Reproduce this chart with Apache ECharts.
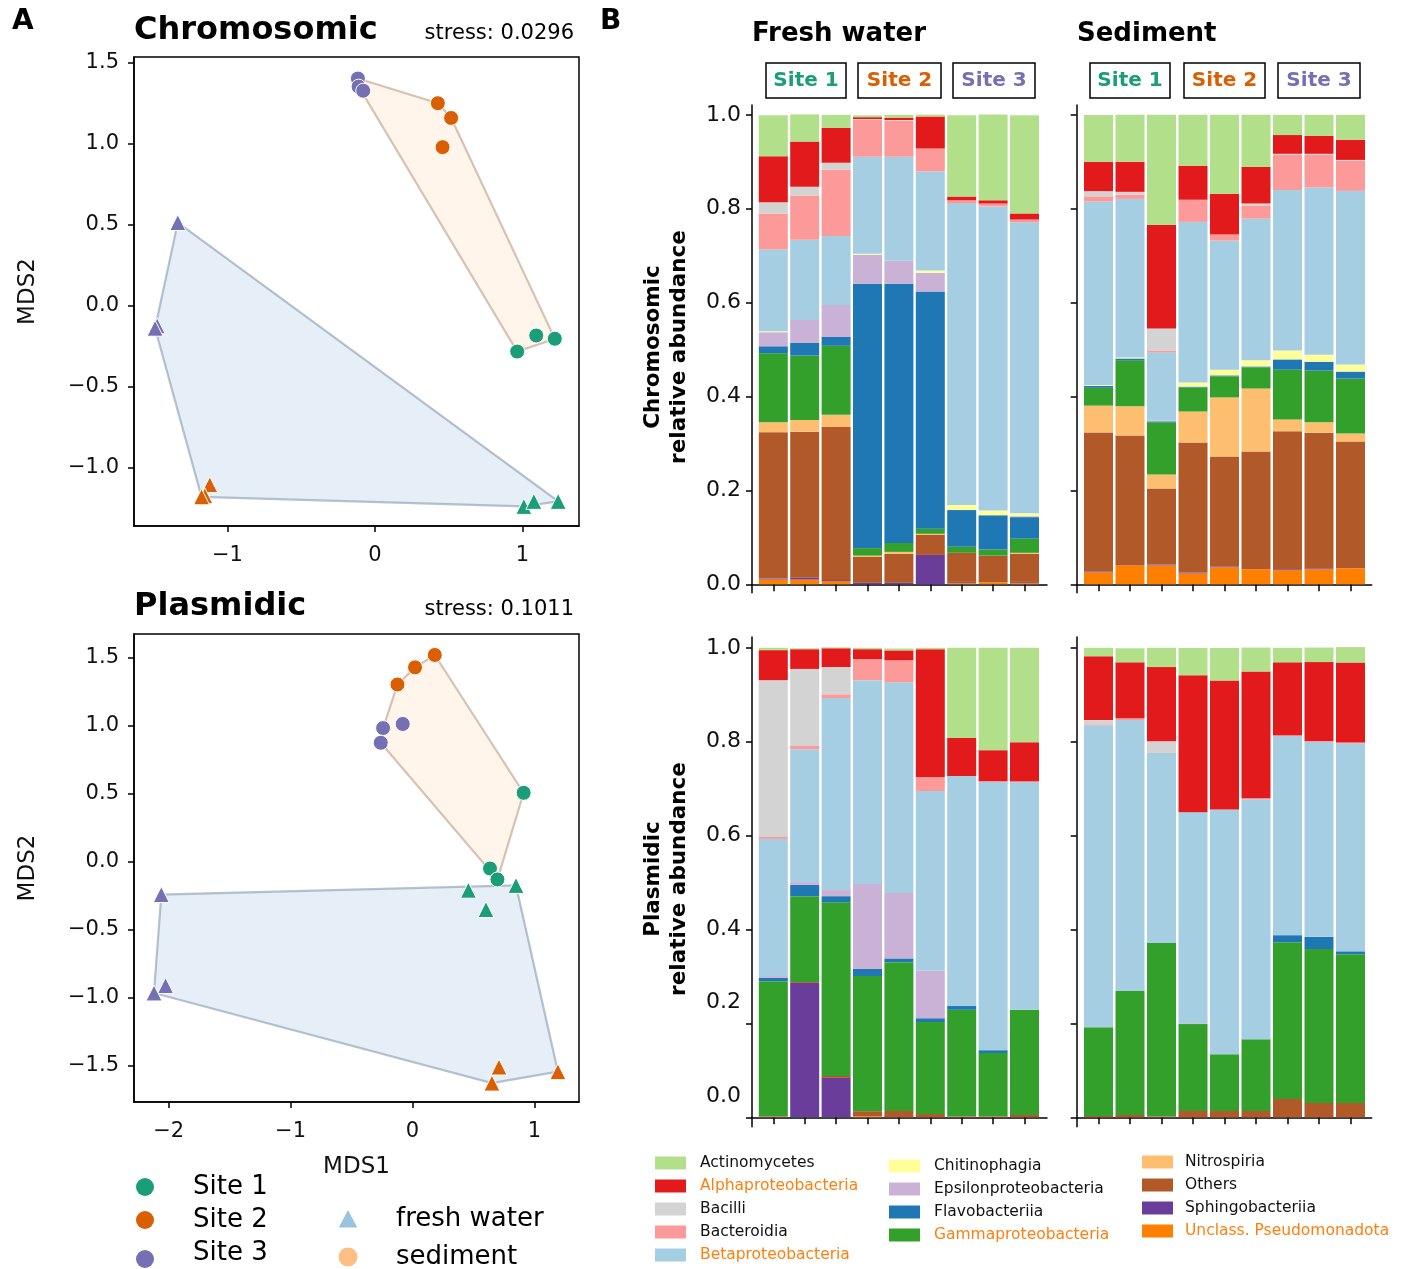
<!DOCTYPE html>
<html><head><meta charset="utf-8">
<script src="https://cdn.jsdelivr.net/npm/echarts@6/dist/echarts.min.js"></script>
<style>html,body{margin:0;padding:0;background:#fff}#c{width:1404px;height:1269px}</style>
</head><body><div id="c"></div>
<script>
// ---------------- DATA ----------------
// stacking order, bottom -> top
const taxa = ['Unclass. Pseudomonadota','Sphingobacteriia','Others','Nitrospiria','Gammaproteobacteria','Flavobacteriia','Epsilonproteobacteria','Chitinophagia','Betaproteobacteria','Bacteroidia','Bacilli','Alphaproteobacteria','Actinomycetes'];
const samples = ['1a','1b','1c','2a','2b','2c','3a','3b','3c'];
const yTicks = [0, 0.2, 0.4, 0.6, 0.8, 1.0];

// Chromosomic, fresh water (rows follow `taxa`)
const chromFresh = [
  [0.010,0.010,0.007,0,0,0,0.003,0.004,0.003],
  [0.002,0.004,0.002,0.003,0.003,0.0625,0.002,0,0.002],
  [0.312,0.311,0.326,0.055,0.062,0.043,0.062,0.057,0.060],
  [0.021,0.025,0.026,0.003,0.004,0.002,0,0,0.002],
  [0.147,0.137,0.147,0.016,0.019,0.011,0.013,0.013,0.030],
  [0.015,0.027,0.019,0.563,0.552,0.505,0.078,0.073,0.046],
  [0.030,0.049,0.068,0.062,0.049,0.040,0,0,0.002],
  [0.002,0,0,0.002,0,0.005,0.011,0.010,0.006],
  [0.174,0.171,0.147,0.207,0.222,0.211,0.643,0.648,0.620],
  [0.077,0.094,0.141,0.078,0.076,0.049,0.006,0.006,0.006],
  [0.024,0.019,0.015,0.002,0.002,0,0,0,0],
  [0.098,0.096,0.074,0.004,0.005,0.068,0.008,0.007,0.013],
  [0.087,0.058,0.028,0.004,0.006,0.004,0.173,0.183,0.209]
];
// Chromosomic, sediment
const chromSed = [
  [0.0255,0.040,0.040,0.023,0.036,0.032,0.030,0.032,0.034],
  [0.002,0,0.002,0.002,0.002,0,0.002,0.002,0],
  [0.296,0.277,0.162,0.277,0.234,0.251,0.294,0.289,0.270],
  [0.057,0.062,0.030,0.066,0.126,0.134,0.025,0.022,0.017],
  [0.038,0.098,0.111,0.051,0.045,0.045,0.106,0.110,0.117],
  [0.004,0.004,0.002,0.002,0.002,0.002,0.022,0.019,0.015],
  [0,0,0.002,0,0,0,0,0,0],
  [0.002,0.002,0,0.009,0.012,0.013,0.019,0.015,0.015],
  [0.391,0.338,0.145,0.342,0.275,0.302,0.342,0.356,0.370],
  [0.011,0.009,0.004,0.047,0.013,0.027,0.075,0.070,0.064],
  [0.011,0.006,0.047,0,0,0.005,0.002,0.002,0.002],
  [0.062,0.064,0.221,0.072,0.087,0.078,0.040,0.038,0.043],
  [0.100,0.100,0.234,0.109,0.168,0.111,0.043,0.045,0.053]
];
// Plasmidic, fresh water
const plasFresh = [
  [0,0,0,0.002,0,0,0,0,0],
  [0,0.286,0.084,0,0,0,0,0,0],
  [0.002,0.002,0.004,0.011,0.0135,0.007,0.002,0.002,0.005],
  [0,0,0,0,0,0,0,0,0],
  [0.288,0.183,0.370,0.288,0.317,0.196,0.227,0.135,0.224],
  [0.007,0.024,0.013,0.015,0.008,0.008,0.008,0.006,0],
  [0.004,0.006,0.013,0.181,0.139,0.101,0,0,0],
  [0,0,0,0,0,0,0,0,0],
  [0.292,0.283,0.409,0.434,0.449,0.383,0.490,0.571,0.485],
  [0.004,0.007,0.008,0.045,0.047,0.030,0,0.002,0.002],
  [0.334,0.164,0.058,0,0,0,0,0,0],
  [0.064,0.042,0.040,0.021,0.021,0.272,0.081,0.066,0.083],
  [0.005,0.002,0.002,0.003,0.004,0.003,0.192,0.218,0.201]
];
// Plasmidic, sediment
const plasSed = [
  [0,0,0,0,0,0,0,0,0],
  [0,0,0,0,0,0,0,0,0],
  [0.003,0.005,0.002,0.0135,0.0135,0.0135,0.039,0.0305,0.0305],
  [0,0,0,0,0,0,0,0,0],
  [0.189,0.264,0.369,0.185,0.121,0.153,0.334,0.328,0.317],
  [0,0,0,0,0,0,0.015,0.026,0.006],
  [0,0,0,0.002,0,0,0,0,0],
  [0,0,0,0,0,0,0,0,0],
  [0.643,0.577,0.405,0.449,0.521,0.511,0.424,0.415,0.443],
  [0.002,0.004,0,0,0,0.002,0.002,0.002,0.002],
  [0.009,0,0.025,0,0,0,0,0,0],
  [0.136,0.119,0.158,0.292,0.275,0.270,0.155,0.168,0.170],
  [0.018,0.030,0.041,0.058,0.069,0.051,0.031,0.031,0.033]
];

// NMDS scores [MDS1, MDS2]
const chromSedSite1 = [[0.965,-0.284],[1.094,-0.185],[1.22,-0.205]];
const chromSedSite2 = [[0.427,1.248],[0.517,1.157],[0.459,0.977]];
const chromSedSite3 = [[-0.115,1.40],[-0.11,1.35],[-0.079,1.325]];
const chromFwSite1 = [[1.01,-1.239],[1.078,-1.208],[1.243,-1.208]];
const chromFwSite2 = [[-1.119,-1.105],[-1.153,-1.173],[-1.175,-1.18]];
const chromFwSite3 = [[-1.336,0.512],[-1.476,-0.125],[-1.49,-0.14]];
const plasSedSite1 = [[0.912,0.504],[0.636,-0.052],[0.697,-0.132]];
const plasSedSite2 = [[-0.123,1.30],[0.021,1.426],[0.183,1.517]];
const plasSedSite3 = [[-0.241,0.98],[-0.08,1.01],[-0.26,0.872]];
const plasFwSite1 = [[0.459,-0.211],[0.849,-0.176],[0.603,-0.353]];
const plasFwSite2 = [[0.710,-1.51],[0.652,-1.628],[1.193,-1.544]];
const plasFwSite3 = [[-2.06,-0.243],[-2.025,-0.912],[-2.12,-0.966]];

const chromXTicks = [-1, 0, 1];
const chromYTicks = [-1, -0.5, 0, 0.5, 1, 1.5];
const plasXTicks = [-2, -1, 0, 1];
const plasYTicks = [-1.5, -1, -0.5, 0, 0.5, 1, 1.5];

// ---------------- STYLE ----------------
const FONT = 'DejaVu Sans';
const taxaColor = {
  'Actinomycetes':'#b2df8a','Alphaproteobacteria':'#e31a1c','Bacilli':'#d3d3d3','Bacteroidia':'#fb9a99',
  'Betaproteobacteria':'#a6cee3','Chitinophagia':'#ffff99','Epsilonproteobacteria':'#cab2d6','Flavobacteriia':'#1f78b4',
  'Gammaproteobacteria':'#33a02c','Nitrospiria':'#fdbf6f','Others':'#b15928','Sphingobacteriia':'#6a3d9a',
  'Unclass. Pseudomonadota':'#ff7f00'
};
const orangeLabel = new Set(['Alphaproteobacteria','Betaproteobacteria','Gammaproteobacteria','Unclass. Pseudomonadota']);
const siteColor = ['#1b9e77','#d95f02','#7570b3'];
const minusFmt = v => { const s = (Math.round(v*10)/10).toString(); return s.replace('-', '\u2212'); };
const minusFmt1 = v => v.toFixed(1).replace('-', '\u2212');

function hull(pts){
  const p = pts.slice().sort((a,b)=>a[0]-b[0]||a[1]-b[1]);
  const cr=(o,a,b)=>(a[0]-o[0])*(b[1]-o[1])-(a[1]-o[1])*(b[0]-o[0]);
  const lo=[]; for(const q of p){while(lo.length>=2&&cr(lo[lo.length-2],lo[lo.length-1],q)<=0)lo.pop();lo.push(q);}
  const up=[]; for(const q of p.slice().reverse()){while(up.length>=2&&cr(up[up.length-2],up[up.length-1],q)<=0)up.pop();up.push(q);}
  lo.pop(); up.pop(); return lo.concat(up);
}

const grid = [], xAxis = [], yAxis = [], series = [];

// ---- scatter panels ----
const scatterPanels = [
  {g:{left:134,top:57,width:445,height:469}, x:[-1.633,1.384], y:[-1.36,1.533], xt:chromXTicks, yt:chromYTicks,
   sed:[chromSedSite1,chromSedSite2,chromSedSite3], fw:[chromFwSite1,chromFwSite2,chromFwSite3], xname:''},
  {g:{left:134,top:634,width:445,height:468}, x:[-2.284,1.366], y:[-1.767,1.671], xt:plasXTicks, yt:plasYTicks,
   sed:[plasSedSite1,plasSedSite2,plasSedSite3], fw:[plasFwSite1,plasFwSite2,plasFwSite3], xname:'MDS1'}
];
scatterPanels.forEach((sp, i) => {
  grid.push(Object.assign({show:true, borderColor:'#000', borderWidth:1.5, backgroundColor:'transparent'}, sp.g));
  xAxis.push({type:'value', gridIndex:i, min:sp.x[0], max:sp.x[1], splitLine:{show:false},
    axisLine:{show:true, onZero:false, lineStyle:{color:'#000', width:1.5}},
    axisTick:{show:true, customValues:sp.xt, length:6, lineStyle:{color:'#000', width:1.5}},
    axisLabel:{customValues:sp.xt, formatter:minusFmt, fontFamily:FONT, fontSize:21, color:'#111', margin:19},
    name:sp.xname, nameLocation:'middle', nameGap:54, nameTextStyle:{fontFamily:FONT, fontSize:23, color:'#111'}});
  yAxis.push({type:'value', gridIndex:i, min:sp.y[0], max:sp.y[1], splitLine:{show:false},
    axisLine:{show:true, onZero:false, lineStyle:{color:'#000', width:1.5}},
    axisTick:{show:true, customValues:sp.yt, length:6, lineStyle:{color:'#000', width:1.5}},
    axisLabel:{customValues:sp.yt, formatter:minusFmt1, fontFamily:FONT, fontSize:21, color:'#111', margin:15},
    name:'MDS2', nameLocation:'middle', nameGap:94, nameTextStyle:{fontFamily:FONT, fontSize:23, color:'#111'}});
  const fwAll = [].concat(...sp.fw), sedAll = [].concat(...sp.sed);
  const hf = hull(fwAll), hs = hull(sedAll);
  series.push({type:'custom', xAxisIndex:i, yAxisIndex:i, data:[[0,0]], silent:true, z:1,
    renderItem:(params, api) => ({type:'polygon', shape:{points:hf.map(p=>api.coord(p))},
      style:{fill:'rgba(166,198,227,0.28)', stroke:'rgba(135,155,175,0.6)', lineWidth:2.2}})});
  series.push({type:'custom', xAxisIndex:i, yAxisIndex:i, data:[[0,0]], silent:true, z:1,
    renderItem:(params, api) => ({type:'polygon', shape:{points:hs.map(p=>api.coord(p))},
      style:{fill:'rgba(253,191,111,0.15)', stroke:'rgba(175,140,115,0.5)', lineWidth:2.2}})});
  for (let s = 0; s < 3; s++) {
    series.push({type:'scatter', xAxisIndex:i, yAxisIndex:i, data:sp.sed[s], symbol:'circle', symbolSize:15, z:3,
      itemStyle:{color:siteColor[s], borderColor:'#fff', borderWidth:1, opacity:1}});
    series.push({type:'scatter', xAxisIndex:i, yAxisIndex:i, data:sp.fw[s], symbol:'triangle', symbolSize:16, z:3,
      itemStyle:{color:siteColor[s], borderColor:'#fff', borderWidth:1, opacity:1}});
  }
});

// ---- bar panels ----
const barPanels = [
  {data:chromFresh, spine:{left:752,top:105,width:295,height:487.7}, bar:{left:757.6,width:282.6}, y:[-0.018,1.021], labels:true, shift:false},
  {data:chromSed,   spine:{left:1076.7,top:105,width:295,height:487.7}, bar:{left:1082.75,width:283.5}, y:[-0.018,1.021], labels:false, shift:false},
  {data:plasFresh,  spine:{left:752,top:637,width:295,height:489.7}, bar:{left:757.6,width:282.6}, y:[-0.02,1.023], labels:true, shift:true},
  {data:plasSed,    spine:{left:1076.7,top:637,width:295,height:489.7}, bar:{left:1082.75,width:283.5}, y:[-0.02,1.023], labels:false, shift:false}
];
barPanels.forEach((bp, k) => {
  const gs = grid.length;
  grid.push(Object.assign({}, bp.spine));
  grid.push({left:bp.bar.left, width:bp.bar.width, top:bp.spine.top, height:bp.spine.height});
  xAxis.push({type:'value', gridIndex:gs, min:0, max:1, axisLine:{show:true, lineStyle:{color:'#000', width:1.5}},
    axisTick:{show:false}, axisLabel:{show:false}, splitLine:{show:false}});
  yAxis.push({type:'value', gridIndex:gs, min:bp.y[0], max:bp.y[1], splitLine:{show:false},
    axisLine:{show:true, lineStyle:{color:'#000', width:1.5}},
    axisTick:{show:true, customValues:yTicks, length:6, lineStyle:{color:'#000', width:1.5}},
    axisLabel:{show:bp.labels, customValues:yTicks, fontFamily:FONT, fontSize:22, color:'#111', margin:11,
      formatter: v => (bp.shift && v < 0.3) ? '{s|' + v.toFixed(1) + '}' : v.toFixed(1),
      rich:{s:{fontFamily:FONT, fontSize:22, color:'#111', padding:[0,0,42,0]}}}});
  xAxis.push({type:'category', gridIndex:gs+1, data:samples, boundaryGap:true,
    axisLine:{show:false}, axisTick:{show:true, alignWithLabel:true, length:7, lineStyle:{color:'#000', width:1.5}},
    axisLabel:{show:false}, splitLine:{show:false}});
  yAxis.push({type:'value', gridIndex:gs+1, min:bp.y[0], max:bp.y[1], show:false});
  taxa.forEach((t, ti) => {
    series.push({type:'bar', name:t, xAxisIndex:xAxis.length-1, yAxisIndex:yAxis.length-1, stack:'p'+k,
      data:bp.data[ti], barWidth:29, itemStyle:{color:taxaColor[t]}, clip:false, silent:true});
  });
});

// ---- texts, boxes, legends ----
const graphic = [];
const txt = (x, y, text, o) => graphic.push({type:'text', x, y, silent:true, z:10,
  style:Object.assign({text, fontFamily:FONT, fontSize:20, fill:'#000', align:'left', verticalAlign:'middle'}, o||{})});
txt(12, 22, 'A', {fontWeight:'bold', fontSize:28});
txt(600, 22, 'B', {fontWeight:'bold', fontSize:28});
txt(134, 31, 'Chromosomic', {fontWeight:'bold', fontSize:32});
txt(574, 34, 'stress: 0.0296', {fontSize:21, align:'right'});
txt(134, 607, 'Plasmidic', {fontWeight:'bold', fontSize:32});
txt(574, 610, 'stress: 0.1011', {fontSize:21, align:'right'});
txt(752, 34, 'Fresh water', {fontWeight:'bold', fontSize:26});
txt(1077, 34, 'Sediment', {fontWeight:'bold', fontSize:26});
// site boxes
const siteBoxes = [[766,846],[858,941],[953,1035],[1090,1170],[1184,1265],[1278,1360]];
siteBoxes.forEach((b, i) => {
  graphic.push({type:'rect', shape:{x:b[0], y:63, width:b[1]-b[0], height:35}, style:{fill:'#fff', stroke:'#000', lineWidth:1.5}, silent:true, z:10});
  txt((b[0]+b[1])/2, 81, 'Site ' + (i%3+1), {fontWeight:'bold', fontSize:20, align:'center', fill:siteColor[i%3]});
});
// bar y-axis titles
const rotTxt = (x, y, text) => graphic.push({type:'text', x, y, rotation:Math.PI/2, silent:true, z:10,
  style:{text, fontFamily:FONT, fontWeight:'bold', fontSize:21.5, fill:'#000', align:'center', verticalAlign:'middle'}});
rotTxt(653, 347, 'Chromosomic'); rotTxt(679, 347, 'relative abundance');
rotTxt(653, 879, 'Plasmidic'); rotTxt(679, 879, 'relative abundance');
// bar legend (alphabetical, 3 columns)
const legendCols = [
  {sx:655, tx:700, y0:1163, items:['Actinomycetes','Alphaproteobacteria','Bacilli','Bacteroidia','Betaproteobacteria']},
  {sx:889, tx:934, y0:1166, items:['Chitinophagia','Epsilonproteobacteria','Flavobacteriia','Gammaproteobacteria']},
  {sx:1142, tx:1185, y0:1162, items:['Nitrospiria','Others','Sphingobacteriia','Unclass. Pseudomonadota']}
];
legendCols.forEach(c => c.items.forEach((t, j) => {
  const y = c.y0 + j*23;
  graphic.push({type:'rect', shape:{x:c.sx, y:y-6.5, width:31, height:13}, style:{fill:taxaColor[t]}, silent:true, z:10});
  txt(c.tx, y, t, {fontSize:15.5, fill: orangeLabel.has(t) ? '#ff7f0e' : '#111'});
}));
// scatter legend
[[1187,'Site 1'],[1220,'Site 2'],[1257,'Site 3']].forEach((r, i) => {
  graphic.push({type:'circle', shape:{cx:145, cy:r[0] + (i===2?2:0), r:9}, style:{fill:siteColor[i]}, silent:true, z:10});
  txt(193, r[0] - (i===2?4:0), r[1], {fontSize:26});
});
graphic.push({type:'polygon', shape:{points:[[348,1209],[338,1228],[358,1228]]}, style:{fill:'rgba(130,180,215,0.8)', stroke:'#fff', lineWidth:1}, silent:true, z:10});
txt(396, 1219, 'fresh water', {fontSize:26});
graphic.push({type:'circle', shape:{cx:348, cy:1257, r:10}, style:{fill:'rgba(253,175,100,0.8)', stroke:'#fff', lineWidth:1}, silent:true, z:10});
txt(396, 1257, 'sediment', {fontSize:26});

const chart = echarts.init(document.getElementById('c'), null, {renderer:'canvas'});
chart.setOption({animation:false, backgroundColor:'#fff', grid, xAxis, yAxis, series, graphic});
</script></body></html>
